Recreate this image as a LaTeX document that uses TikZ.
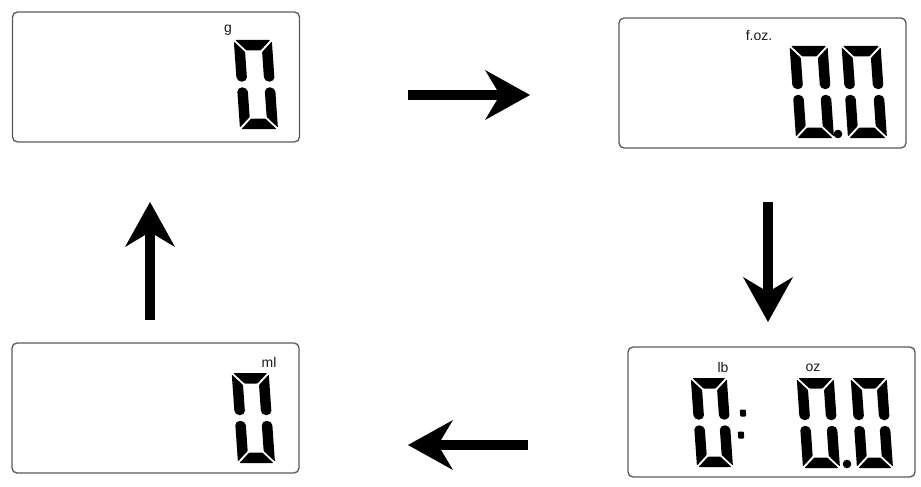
\documentclass[tikz,border=0pt]{standalone}
\usepackage{fontspec}
\setmainfont{Liberation Sans}
\usetikzlibrary{arrows.meta}
\tikzset{
  lcdbox/.style={draw=black!65, line width=1.3pt, rounded corners=5pt, minimum width=287pt, minimum height=130pt, inner sep=0pt},
  lcdseg/.style={fill=black, rounded corners=0.8pt},
  lcddot/.style={fill=black, rounded corners=1pt},
  lbl/.style={font=\fontsize{14}{14}\selectfont, text=black!90, inner sep=0pt},
  flow/.style={line width=10pt, -{Stealth[length=45pt,width=50pt,inset=15pt,line width=0pt]}},
}
% #1,#2 bottom-left corner (picture coordinates), #3 width, #4 height
\newcommand\lcdzero[4]{%
\begin{scope}[shift={(#1,#2)},yscale=-1,xslant=0.07]
\def\W{#3}\def\H{#4}
\fill[lcdseg] (1.5,\H) -- ({\W-1.5},\H) -- ({\W-12},{\H-10.5}) -- (12,{\H-10.5}) -- cycle;
\fill[lcdseg] (1.5,0) -- ({\W-1.5},0) -- ({\W-12},10.5) -- (12,10.5) -- cycle;
\fill[lcdseg] (0,{\H-1.5}) -- (10.5,{\H-12}) -- (10.5,{\H/2+8}) arc (0:-180:5.25) -- cycle;
\fill[lcdseg] (0,1.5) -- (10.5,12) -- (10.5,{\H/2-8}) arc (0:180:5.25) -- cycle;
\fill[lcdseg] (\W,{\H-1.5}) -- ({\W-10.5},{\H-12}) -- ({\W-10.5},{\H/2+8}) arc (180:360:5.25) -- cycle;
\fill[lcdseg] (\W,1.5) -- ({\W-10.5},12) -- ({\W-10.5},{\H/2-8}) arc (180:0:5.25) -- cycle;
\end{scope}}
\newcommand\lcddot[2]{%
\begin{scope}[shift={(#1,#2)},xslant=-0.07]
\fill[lcddot] (-3,-3.5) rectangle (3,3.5);
\end{scope}}
\begin{document}
\begin{tikzpicture}[x=1pt,y=-1pt]
\useasboundingbox (0,0) rectangle (921,487);
% boxes
\node[lcdbox] (g) at (156,77) {};
\node[lcdbox] (foz) at (762.5,83) {};
\node[lcdbox] (lboz) at (771.5,412) {};
\node[lcdbox] (ml) at (155.5,408) {};
% labels
\node[lbl] (gl) at (228,30) {g};
\node[lbl] (fozl) at (759,36) {f.oz.};
\node[lbl] (lbl) at (723,367) {lb};
\node[lbl] (ozl) at (813,368) {oz};
\node[lbl] (mll) at (269,362) {ml};
% digits
\lcdzero{240}{129}{38}{89}
\lcdzero{796}{138}{38}{92}
\lcdzero{848}{138}{39}{92}
\fill (838,134) circle (4.3pt);
\lcdzero{697}{467}{36}{89}
\lcdzero{803}{468}{37}{90}
\lcdzero{857}{468}{36}{90}
\fill (847,464) circle (4.3pt);
\lcddot{743}{413}
\lcddot{741}{435}
\lcdzero{238}{463}{37}{90}
% arrows
\coordinate (r1) at (408,95); \coordinate (r2) at (530,95);
\coordinate (d1) at (768,202); \coordinate (d2) at (768,322);
\coordinate (l1) at (528,445); \coordinate (l2) at (408,445);
\coordinate (u1) at (150,320); \coordinate (u2) at (150,202);
\draw[flow] (r1) -- (r2);
\draw[flow] (d1) -- (d2);
\draw[flow] (l1) -- (l2);
\draw[flow] (u1) -- (u2);
\end{tikzpicture}
\end{document}
